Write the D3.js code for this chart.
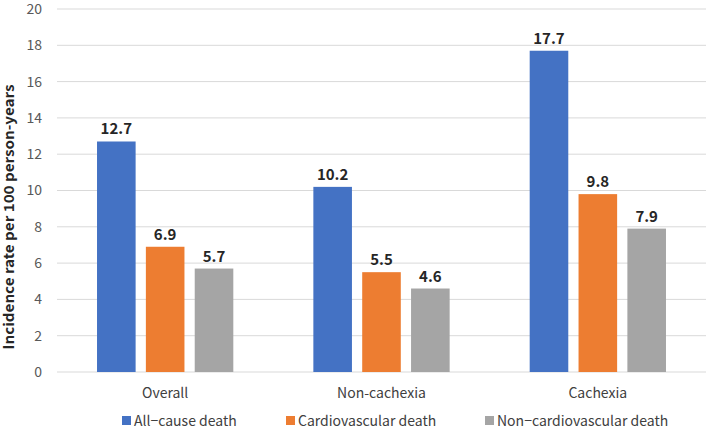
<!DOCTYPE html>
<html>
<head>
<meta charset="utf-8">
<script src="https://cdn.jsdelivr.net/npm/d3@7"></script>
<style>
  body { margin: 0; background: #fff; }
  text { font-family: "Noto Sans CJK JP", "Noto Sans", sans-serif; }
</style>
</head>
<body>
<div id="chart"></div>
<script>
// data
var groups = ["Overall", "Non-cachexia", "Cachexia"];
var seriesNames = ["All\u2212cause death", "Cardiovascular death", "Non\u2212cardiovascular death"];
var allCause = [12.7, 10.2, 17.7];
var cardio = [6.9, 5.5, 9.8];
var nonCardio = [5.7, 4.6, 7.9];
var yTicks = [0, 2, 4, 6, 8, 10, 12, 14, 16, 18, 20];
var colors = ["#4472C4", "#ED7D31", "#A5A5A5"];

var svgWidth = 709;
var svgHeight = 430;
var margin = { top: 9, right: 3, bottom: 58, left: 57 };
var width = svgWidth - margin.left - margin.right;
var height = svgHeight - margin.top - margin.bottom;

var svg = d3.select("#chart").append("svg")
  .attr("width", svgWidth)
  .attr("height", svgHeight);

var chartGroup = svg.append("g")
  .attr("transform", `translate(${margin.left}, ${margin.top})`);

var series = [allCause, cardio, nonCardio];
var tableData = groups.map(function (g, i) {
  return { group: g, values: series.map(function (s) { return s[i]; }) };
});

var x0 = d3.scaleBand().domain(groups).range([0, width]).paddingInner(0.37).paddingOuter(0.185);
var x1 = d3.scaleBand().domain([0, 1, 2]).range([0, x0.bandwidth()]).paddingInner(0.21);
var y = d3.scaleLinear().domain([0, 20]).range([height, 0]);

// gridlines
chartGroup.append("g")
  .selectAll("line")
  .data(yTicks)
  .enter()
  .append("line")
  .attr("x1", 0)
  .attr("x2", width)
  .attr("y1", d => y(d))
  .attr("y2", d => y(d))
  .attr("stroke", "#d9d9d9")
  .attr("stroke-width", 1);

// y axis labels
var leftAxis = d3.axisLeft(y).tickValues(yTicks).tickSize(0).tickPadding(15);
var yAxis = chartGroup.append("g").call(leftAxis);
yAxis.select(".domain").remove();
yAxis.selectAll("text")
  .attr("font-size", "14px")
  .attr("fill", "#595959")
  .style("font-family", "\"Noto Sans CJK JP\", sans-serif");

// bars
var groupG = chartGroup.selectAll(".grp")
  .data(tableData)
  .enter()
  .append("g")
  .attr("transform", d => `translate(${x0(d.group)}, 0)`);

groupG.selectAll("rect")
  .data(d => d.values)
  .enter()
  .append("rect")
  .attr("x", (d, i) => x1(i))
  .attr("y", d => y(d))
  .attr("width", x1.bandwidth())
  .attr("height", d => height - y(d))
  .attr("fill", (d, i) => colors[i]);

groupG.selectAll(".val")
  .data(d => d.values)
  .enter()
  .append("text")
  .attr("x", (d, i) => x1(i) + x1.bandwidth() / 2)
  .attr("y", d => y(d) - 7)
  .attr("text-anchor", "middle")
  .attr("font-size", "15px")
  .attr("font-weight", "bold")
  .attr("fill", "#262626")
  .text(d => d.toFixed(1));

// x axis labels
chartGroup.selectAll(".cat")
  .data(groups)
  .enter()
  .append("text")
  .attr("x", d => x0(d) + x0.bandwidth() / 2)
  .attr("y", height + 26)
  .attr("text-anchor", "middle")
  .attr("font-size", "14px")
  .attr("fill", "#404040")
  .text(d => d);

// y axis title
svg.append("text")
  .attr("transform", "rotate(-90)")
  .attr("x", -217)
  .attr("y", 14)
  .attr("text-anchor", "middle")
  .attr("font-size", "14px")
  .attr("font-weight", "bold")
  .attr("fill", "#262626")
  .attr("textLength", 265)
  .attr("lengthAdjust", "spacingAndGlyphs")
  .text("Incidence rate per 100 person-years");

// legend
var legendX = [122, 286, 485];
var legend = svg.append("g");
seriesNames.forEach(function (name, i) {
  legend.append("rect")
    .attr("x", legendX[i])
    .attr("y", 416)
    .attr("width", 9)
    .attr("height", 9)
    .attr("fill", colors[i]);
  legend.append("text")
    .attr("x", legendX[i] + 12)
    .attr("y", 426)
    .attr("font-size", "14px")
    .attr("fill", "#404040")
    .text(name);
});
</script>
</body>
</html>
